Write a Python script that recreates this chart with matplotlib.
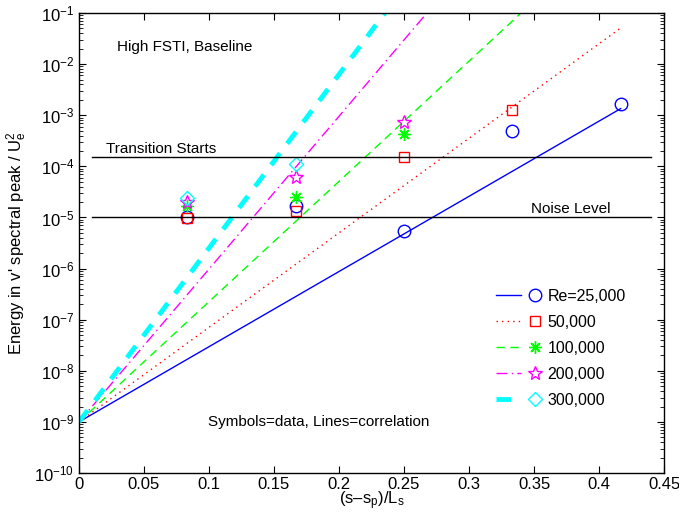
import matplotlib
matplotlib.use('Agg')
import matplotlib.pyplot as plt
from matplotlib.lines import Line2D
from matplotlib.legend_handler import HandlerTuple
from matplotlib.ticker import LogLocator, FixedLocator, NullFormatter

plt.rcParams['font.family'] = ['Liberation Sans', 'DejaVu Sans']
plt.rcParams['mathtext.fontset'] = 'custom'
plt.rcParams['mathtext.rm'] = 'Liberation Sans'
plt.rcParams['mathtext.it'] = 'Liberation Sans'
plt.rcParams['mathtext.default'] = 'regular'

# data: (s-s_p)/L_s stations
x_data = [1/12, 2/12, 3/12, 4/12, 5/12]
re25k = [1.0e-5, 1.69e-5, 5.4e-6, 4.9e-4, 1.69e-3]
re50k = [9.6e-6, 1.35e-5, 1.49e-4, 1.25e-3]
re100k = [1.66e-5, 2.53e-5, 4.3e-4]
re200k = [2.02e-5, 6.2e-5, 7.4e-4]
re300k = [2.35e-5, 1.1e-4]

# correlation lines, start/end points
corr_x = {'25k': [0, 0.4167], '50k': [0, 0.4167], '100k': [0, 0.340],
          '200k': [0, 0.2676], '300k': [0, 0.2353]}
corr_y = {'25k': [1e-9, 1.35e-3], '50k': [1e-9, 5.1e-2], '100k': [1e-9, 1e-1],
          '200k': [1e-9, 1e-1], '300k': [1e-9, 1e-1]}

noise_level = 1e-5
transition_level = 1.5e-4
level_x = [0.01, 0.44]

labels = ['Re=25,000', '50,000', '100,000', '200,000', '300,000']
keys = ['25k', '50k', '100k', '200k', '300k']
series = [re25k, re50k, re100k, re200k, re300k]
colors = ['#0000ff', '#ff0000', '#00ff00', '#ff00ff', '#00ffff']
styles = ['-', (0, (1, 3)), (0, (6, 4)), (0, (8, 3, 1, 3)), (0, (3, 2.5))]
widths = [1.0, 1.0, 1.0, 1.0, 3.5]
markers = ['o', 's', (8, 2, 0), '*', 'D']
msizes = [9, 7, 9, 10, 7]

xt = [0, 0.05, 0.1, 0.15, 0.2, 0.25, 0.3, 0.35, 0.4, 0.45]
xt_labels = ['0', '0.05', '0.1', '0.15', '0.2', '0.25', '0.3', '0.35', '0.4', '0.45']
yt = [1e-10, 1e-9, 1e-8, 1e-7, 1e-6, 1e-5, 1e-4, 1e-3, 1e-2, 1e-1]

fig = plt.figure(figsize=(6.79, 5.16), dpi=100)
ax = fig.add_axes([0.1163, 0.0833, 0.978 - 0.1163, 0.9748 - 0.0833])

handles = []
for k, ys, c, ls, lw, m, ms in zip(keys, series, colors, styles, widths, markers, msizes):
    ax.semilogy(corr_x[k], corr_y[k], color=c, linestyle=ls, linewidth=lw)
    ax.semilogy(x_data[:len(ys)], ys, linestyle='none', marker=m, markersize=ms,
                markerfacecolor='none', markeredgecolor=c, markeredgewidth=1.0)
    handles.append((Line2D([], [], color=c, linestyle=ls, linewidth=lw),
                    Line2D([], [], linestyle='none', marker=m, markersize=ms,
                           markerfacecolor='none', markeredgecolor=c)))

ax.plot(level_x, [noise_level, noise_level], color='k', linewidth=1.0)
ax.plot(level_x, [transition_level, transition_level], color='k', linewidth=1.0)

ax.text(0.029, 0.0216, 'High FSTI, Baseline', fontsize=11, va='center', ha='left')
ax.text(0.021, transition_level * 1.08, 'Transition Starts', fontsize=11, va='bottom', ha='left')
ax.text(0.348, noise_level * 1.08, 'Noise Level', fontsize=11, va='bottom', ha='left')
ax.text(0.099, 1e-9, 'Symbols=data, Lines=correlation', fontsize=11, va='center', ha='left')

ax.set_xlim(0, 0.45)
ax.set_ylim(1e-10, 1e-1)
ax.xaxis.set_major_locator(FixedLocator(xt))
ax.set_xticklabels(xt_labels)
ax.yaxis.set_major_locator(FixedLocator(yt))
ax.yaxis.set_minor_locator(LogLocator(base=10, subs=range(2, 10), numticks=20))
ax.yaxis.set_minor_formatter(NullFormatter())
ax.tick_params(which='both', direction='in', top=True, right=True, labelsize=12)
ax.tick_params(which='major', length=5)
ax.tick_params(which='minor', length=3)
ax.tick_params(axis='x', pad=3)
for s in ax.spines.values():
    s.set_linewidth(1.0)

ax.set_xlabel('(s\u2013s$_p$)/L$_s$', fontsize=12, labelpad=-2)
ax.set_ylabel("Energy in v' spectral peak / U$_e^2$", fontsize=12)

ax.legend(handles, labels, handler_map={tuple: HandlerTuple(ndivide=None, pad=0.1)},
          loc='upper left', bbox_to_anchor=(0.7135, 0.401), frameon=False,
          fontsize=11.5, handlelength=3.2, handletextpad=0.0, labelspacing=0.69,
          borderpad=0, borderaxespad=0)

fig.savefig('out.png', dpi=100)
